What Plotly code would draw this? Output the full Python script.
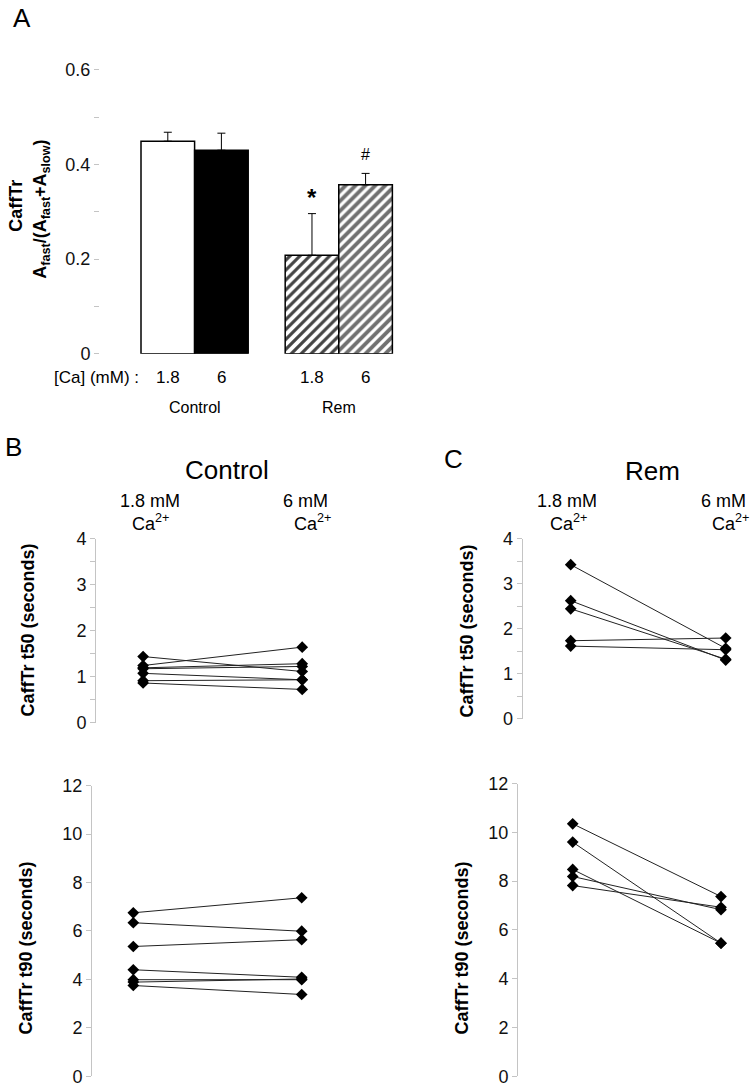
import plotly.graph_objects as go

W, H = 756, 1090
FONT = "Arial, Liberation Sans, sans-serif"

# ---------------- data ----------------
# Panel A
bar_labels = ["1.8", "6", "1.8", "6"]
bar_groups = ["Control", "Rem"]
bar_pos = [0.0, 1.0, 2.69, 3.69]
bar_values = [0.449, 0.430, 0.208, 0.357]
bar_err = [0.019, 0.036, 0.088, 0.024]

# Panels B and C (x: 0 = 1.8 mM Ca2+, 1 = 6 mM Ca2+)
ctrl_t50_18 = [1.435, 1.24, 1.19, 1.17, 1.07, 0.91, 0.86]
ctrl_t50_6 = [1.11, 1.64, 1.28, 1.22, 0.93, 0.93, 0.72]
ctrl_t90_18 = [6.75, 6.34, 5.36, 4.40, 3.99, 3.89, 3.75]
ctrl_t90_6 = [7.37, 5.99, 5.64, 4.09, 3.99, 4.02, 3.38]
rem_t50_18 = [3.42, 2.62, 2.44, 1.73, 1.61]
rem_t50_6 = [1.56, 1.30, 1.32, 1.79, 1.53]
rem_t90_18 = [10.35, 9.60, 8.48, 8.19, 7.82]
rem_t90_6 = [7.37, 5.46, 5.46, 6.83, 6.93]

# vertical screen-capture compensation (observed)
VS, VO = 0.982, 9.2


def fx(px):
    return px / W


def fy(py):
    return 1 - ((py - VO) / VS) / H


fig = go.Figure()

# ---------------- Panel A bars ----------------
fig.add_trace(go.Bar(
    x=bar_pos, y=bar_values, width=1.0,
    marker=dict(
        color=["white", "black", "white", "#707070"],
        line=dict(color="black", width=1.5),
        pattern=dict(shape=["", "", "/", "/"],
                     bgcolor=["white", "black", "white", "#707070"],
                     fgcolor="black", fgopacity=1, size=7, solidity=0.45),
    ),
    error_y=dict(type="data", array=bar_err, arrayminus=[0, 0, 0, 0],
                 symmetric=False, color="black", thickness=1, width=4),
    xaxis="x", yaxis="y",
))


def pair_traces(left, right, xa, ya):
    for a, b in zip(left, right):
        fig.add_trace(go.Scatter(
            x=[0, 1], y=[a, b], mode="lines+markers",
            line=dict(color="#222222", width=1),
            marker=dict(symbol="diamond", size=9, color="black"),
            xaxis=xa, yaxis=ya,
        ))


pair_traces(ctrl_t50_18, ctrl_t50_6, "x2", "y2")
pair_traces(rem_t50_18, rem_t50_6, "x3", "y3")
pair_traces(ctrl_t90_18, ctrl_t90_6, "x4", "y4")
pair_traces(rem_t90_18, rem_t90_6, "x5", "y5")


def xaxis_for(dom_l, dom_r, p0, p1):
    unit = p1 - p0
    return dict(domain=[fx(dom_l), fx(dom_r)],
                range=[(dom_l - p0) / unit, (dom_r - p0) / unit],
                showline=False, showgrid=False, zeroline=False,
                showticklabels=False, ticks="", fixedrange=True)


def yaxis_for(top, bottom, rng, dtick, minor_dtick, xa, showline=True):
    d = dict(domain=[fy(bottom), fy(top)], range=rng, anchor=xa,
             showgrid=False, zeroline=False,
             showline=showline, linecolor="#c4c4c4", linewidth=1,
             ticks="outside", ticklen=5, tickcolor="#c4c4c4", tickwidth=1,
             dtick=dtick, tick0=0,
             tickfont=dict(family=FONT, size=18, color="#111111"))
    if minor_dtick:
        d["minor"] = dict(dtick=minor_dtick, ticks="outside", ticklen=5,
                          tickcolor="#c4c4c4")
    return d


# Panel A axes
ax_l, ax_r = 100, 400
unitA = 53.6
p0A = 167.8
fig.update_layout(
    xaxis=dict(domain=[fx(ax_l), fx(ax_r)],
               range=[(ax_l - p0A) / unitA, (ax_r - p0A) / unitA],
               showline=False, showgrid=False, zeroline=False,
               showticklabels=False, ticks=""),
    yaxis=yaxis_for(69, 353, [0, 0.6], 0.2, 0.1, "x", showline=False),
    xaxis2=xaxis_for(96, 350, 143.1, 302.2),
    yaxis2=yaxis_for(538, 722, [0, 4], 1, 0.5, "x2"),
    xaxis3=xaxis_for(522.7, 750, 570.7, 725.7),
    yaxis3=yaxis_for(538, 718, [0, 4], 1, 0.5, "x3"),
    xaxis4=xaxis_for(92, 350, 133.3, 301.7),
    yaxis4=yaxis_for(785, 1076, [0, 12], 2, None, "x4"),
    xaxis5=xaxis_for(518, 750, 572.7, 721),
    yaxis5=yaxis_for(783, 1076, [0, 12], 2, None, "x5"),
)
fig.layout.yaxis.tickvals = [0, 0.2, 0.4, 0.6]
fig.layout.yaxis.ticktext = ["0", "0.2", "0.4", "0.6"]

ann = []


def txt(x, y, t, size, bold=False, angle=0, xanchor="center", xref="paper", yref="paper"):
    if bold:
        t = "<b>" + t + "</b>"
    ann.append(dict(x=x, y=y, xref=xref, yref=yref, text=t, showarrow=False,
                    xanchor=xanchor, yanchor="middle", textangle=angle,
                    font=dict(family=FONT, size=size, color="black")))


# Panel labels
txt(fx(22), fy(17), "A", 26)
txt(fx(13), fy(446), "B", 26)
txt(fx(453), fy(458), "C", 26)

# Panel A texts
txt(fx(16), fy(205), "CaffTr", 18, bold=True, angle=-90)
txt(fx(42), fy(209), "A<sub>fast</sub>/(A<sub>fast</sub>+A<sub>slow</sub>)", 18, bold=True, angle=-90)
for p, lab in zip(bar_pos, bar_labels):
    txt(p, fy(377), lab, 17, xref="x")
txt(fx(96), fy(377), "[Ca] (mM) :", 17)
txt((bar_pos[0] + bar_pos[1]) / 2, fy(407), bar_groups[0], 16, xref="x")
txt((bar_pos[2] + bar_pos[3]) / 2, fy(407), bar_groups[1], 16, xref="x")
txt(bar_pos[2], fy(197), "*", 24, bold=True, xref="x")
txt(bar_pos[3], fy(154), "#", 16, xref="x")

# Panel B / C headers
txt(fx(227), fy(469), "Control", 26)
txt(fx(652), fy(470), "Rem", 26)
txt(fx(150), fy(500), "1.8 mM", 18)
txt(fx(150), fy(522), "Ca<sup>2+</sup>", 18)
txt(fx(305), fy(500), "6 mM", 18)
txt(fx(312), fy(522), "Ca<sup>2+</sup>", 18)
txt(fx(567), fy(500), "1.8 mM", 18)
txt(fx(568), fy(522), "Ca<sup>2+</sup>", 18)
txt(fx(723), fy(500), "6 mM", 18)
txt(fx(730), fy(522), "Ca<sup>2+</sup>", 18)

# Axis titles B / C
txt(fx(28), fy(630), "CaffTr t50 (seconds)", 18, bold=True, angle=-90)
txt(fx(26), fy(948), "CaffTr t90 (seconds)", 18, bold=True, angle=-90)
txt(fx(467), fy(630), "CaffTr t50 (seconds)", 18, bold=True, angle=-90)
txt(fx(462), fy(948), "CaffTr t90 (seconds)", 18, bold=True, angle=-90)

fig.update_layout(
    width=W, height=H, margin=dict(l=0, r=0, t=0, b=0),
    paper_bgcolor="white", plot_bgcolor="white",
    showlegend=False, annotations=ann,
    font=dict(family=FONT, color="black"),
)

fig.write_html(
    "out.html",
    config={"displayModeBar": False},
    post_script="document.body.style.margin='0';document.body.style.padding='0';"
                "document.body.style.overflow='hidden';",
)
